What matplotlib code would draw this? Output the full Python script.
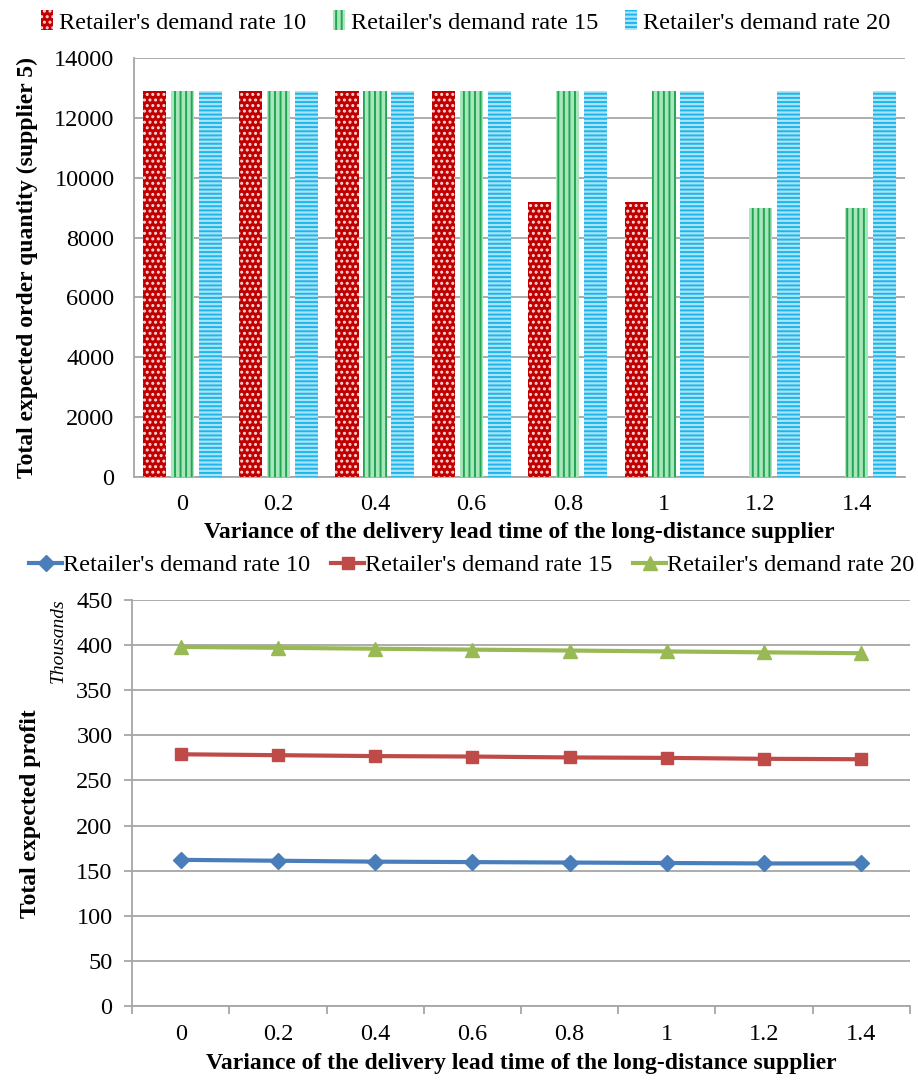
import numpy as np
import matplotlib.pyplot as plt

plt.rcParams['font.family'] = ['Liberation Serif', 'DejaVu Serif']
plt.rcParams['hatch.linewidth'] = 1.4

variance = ["0", "0.2", "0.4", "0.6", "0.8", "1", "1.2", "1.4"]
series_names = ["Retailer's demand rate 10", "Retailer's demand rate 15",
                "Retailer's demand rate 20"]

# total expected order quantity from supplier 5 (0 = no order)
order_r10 = [12900, 12900, 12900, 12900, 9200, 9200, 0, 0]
order_r15 = [12900, 12900, 12900, 12900, 12900, 12900, 9000, 9000]
order_r20 = [12900, 12900, 12900, 12900, 12900, 12900, 12900, 12900]

# total expected profit, thousands
profit_r10 = [162, 161, 160, 159.5, 159, 158.5, 158, 158]
profit_r15 = [279, 278, 277, 276.5, 275.5, 275, 274, 273.5]
profit_r20 = [398, 397, 396, 395, 394, 393, 392, 391]

grid_c = "#a6a6a6"
fs = 17.5
x = np.arange(len(variance))

fig = plt.figure(figsize=(9.18, 10.82), dpi=100)
ax1 = fig.add_axes([134 / 918, 1 - 477 / 1082, 771 / 918, 419 / 1082])
ax2 = fig.add_axes([132 / 918, 1 - 1006 / 1082, 778 / 918, 406 / 1082])

# --- bar chart ---
w = 0.24
styles = [
    dict(color="#c00000", hatch="...", edgecolor="#ffd9d9"),
    dict(color="#a8e6bb", hatch="|||", edgecolor="#22a653"),
    dict(color="#a9e4f7", hatch="----", edgecolor="#1fb4ea"),
]
for k, (vals, st) in enumerate(zip([order_r10, order_r15, order_r20], styles)):
    ax1.bar(x + (k - 1) * 0.29, vals, w, color=st["color"], hatch=st["hatch"],
            edgecolor=st["edgecolor"], linewidth=0, label=series_names[k], zorder=3)

ax1.set_xlim(-0.5, len(variance) - 0.5)
ax1.set_ylim(0, 14000)
ax1.set_yticks(np.arange(0, 14001, 2000))
ax1.set_xticks(x)
ax1.set_xticklabels(variance)
ax1.grid(axis="y", color=grid_c, linewidth=1.3, zorder=0)
for s in ["top", "right"]:
    ax1.spines[s].set_visible(False)
for s in ["left", "bottom"]:
    ax1.spines[s].set_color(grid_c)
    ax1.spines[s].set_linewidth(1.3)
ax1.tick_params(axis="both", length=0, labelsize=fs, pad=14)
ax1.tick_params(axis="x", pad=12)
ax1.set_ylabel("Total expected order quantity (supplier 5)", fontsize=17,
               fontweight="bold", labelpad=12)
ax1.set_xlabel("Variance of the delivery lead time of the long-distance supplier",
               fontsize=17, fontweight="bold", labelpad=5)
ax1.legend(loc="lower center", bbox_to_anchor=(0.43, 1.035), ncol=3, frameon=False,
           fontsize=fs, handlelength=0.5, handleheight=0.9, handletextpad=0.25,
           columnspacing=1.1, borderaxespad=0)

# --- line chart ---
line_styles = [("#4a7ebb", "D", 8), ("#be4b48", "s", 9), ("#98b954", "^", 10)]
for vals, (c, m, ms), name in zip([profit_r10, profit_r15, profit_r20], line_styles,
                                  series_names):
    ax2.plot(x, vals, color=c, marker=m, markersize=ms, linewidth=3, label=name,
             zorder=3)

ax2.set_xlim(-0.5, len(variance) - 0.5)
ax2.set_ylim(0, 450)
ax2.set_yticks(np.arange(0, 451, 50))
ax2.set_xticks(x)
ax2.set_xticklabels(variance)
ax2.set_xticks(np.arange(-0.5, len(variance)), minor=True)
ax2.grid(axis="y", color=grid_c, linewidth=1.3, zorder=0)
for s in ["top", "right"]:
    ax2.spines[s].set_visible(False)
for s in ["left", "bottom"]:
    ax2.spines[s].set_color(grid_c)
    ax2.spines[s].set_linewidth(1.3)
ax2.tick_params(axis="both", which="major", labelsize=fs, color=grid_c, width=1.3)
ax2.tick_params(axis="x", which="major", length=0, pad=13)
ax2.tick_params(axis="y", which="major", length=6, pad=8)
ax2.tick_params(axis="x", which="minor", length=6, color=grid_c, width=1.3)
ax2.set_ylabel("Total expected profit", fontsize=17, fontweight="bold")
ax2.yaxis.set_label_coords(-0.117, 0.473)
ax2.set_xlabel("Variance of the delivery lead time of the long-distance supplier",
               fontsize=17, fontweight="bold", labelpad=6)
ax2.text(-0.095, 1.005, "Thousands", transform=ax2.transAxes, rotation=90,
         fontsize=14, fontstyle="italic", ha="center", va="top")
ax2.legend(loc="lower center", bbox_to_anchor=(0.437, 1.035), ncol=3, frameon=False,
           fontsize=fs, handlelength=1.35, handletextpad=0.05, columnspacing=0.85,
           borderaxespad=0)

fig.savefig("out.png", dpi=100)
